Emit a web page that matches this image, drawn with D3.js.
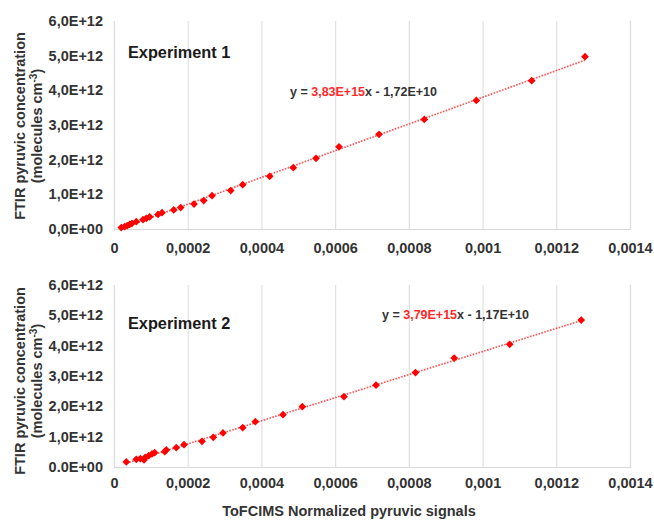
<!DOCTYPE html>
<html><head><meta charset="utf-8">
<script src="https://cdn.jsdelivr.net/npm/d3@7"></script>
<style>
html,body{margin:0;padding:0;background:#fff;}
svg{display:block;font-family:"Liberation Sans",Arial,sans-serif;}
</style></head>
<body><svg id="c" width="654" height="521"></svg>
<script>
// ---- data (y values in units of 1E+12 molecules cm-3) ----
const exp1Signal = [0.0000198,0.0000290,0.0000361,0.0000426,0.0000488,0.0000605,0.0000787,0.0000876,0.0000969,0.0001194,0.0001302,0.0001620,0.0001810,0.0002171,0.0002434,0.0002659,0.0003166,0.0003492,0.0004224,0.0004865,0.0005481,0.0006105,0.0007190,0.0008419,0.0009830,0.0011333,0.0012779];
const exp1Conc = [0.04,0.07,0.10,0.13,0.16,0.21,0.27,0.31,0.35,0.42,0.47,0.55,0.62,0.72,0.82,0.96,1.11,1.28,1.52,1.77,2.04,2.37,2.73,3.16,3.71,4.28,4.97];
const exp2Signal = [0.0000334,0.0000605,0.0000714,0.0000814,0.0000849,0.0000941,0.0001031,0.0001104,0.0001376,0.0001419,0.0001690,0.0001899,0.0002388,0.0002694,0.0002957,0.0003492,0.0003834,0.0004585,0.0005109,0.0006240,0.0007109,0.0008180,0.0009230,0.0010736,0.0012676];
const exp2Conc = [0.165,0.254,0.274,0.231,0.320,0.373,0.429,0.472,0.505,0.561,0.637,0.736,0.848,0.980,1.122,1.297,1.495,1.723,1.990,2.320,2.696,3.112,3.591,4.043,4.845];
const xTickValues = [0,0.0002,0.0004,0.0006,0.0008,0.001,0.0012,0.0014];
const xTickLabels = ["0","0,0002","0,0004","0,0006","0,0008","0,001","0,0012","0,0014"];
const yTickValues = [0,1,2,3,4,5,6];
const yTickLabels1 = ["0,0E+00","1,0E+12","2,0E+12","3,0E+12","4,0E+12","5,0E+12","6,0E+12"];
const yTickLabels2 = ["0.0E+00","1,0E+12","2,0E+12","3,0E+12","4,0E+12","5,0E+12","6,0E+12"];
const panelTitles = ["Experiment 1","Experiment 2"];
const eqSlopes = ["3,83E+15","3,79E+15"];
const eqIntercepts = ["x - 1,72E+10","x - 1,17E+10"];
const xTitle = "ToFCIMS Normalized pyruvic signals";

const svg = d3.select("#c");
const TXT = "#333";
const RED = "#ff0000";
const x = d3.scaleLinear().domain([0,0.0014]).range([114,630]);

const panels = [
  {xs:exp1Signal, ys:exp1Conc, yr:[229,21], yl:yTickLabels1, title:panelTitles[0], tPos:[128,58], eq:[eqSlopes[0],eqIntercepts[0]], ePos:[290,96], xlY:253, yc:126},
  {xs:exp2Signal, ys:exp2Conc, yr:[467,285], yl:yTickLabels2, title:panelTitles[1], tPos:[128,329], eq:[eqSlopes[1],eqIntercepts[1]], ePos:[382,319], xlY:488, yc:381}
];

panels.forEach(p => {
  const y = d3.scaleLinear().domain([0,6]).range(p.yr);
  const g = svg.append("g");
  g.append("g").attr("transform",`translate(0,${p.yr[0]})`)
    .call(d3.axisBottom(x).tickValues(xTickValues).tickSize(-(p.yr[0]-p.yr[1])).tickFormat((d,i)=>xTickLabels[i]).tickPadding(0))
    .call(a=>{
      a.select(".domain").attr("stroke","#d9d9d9").attr("stroke-width",1.2);
      a.selectAll(".tick line").attr("stroke","#e0e0e0").attr("stroke-width",1.2);
      a.selectAll(".tick text").attr("fill",TXT).attr("font-size","14.5px").attr("font-weight","bold")
        .attr("font-family","'Liberation Sans',Arial,sans-serif").attr("dy",null).attr("y",p.xlY-p.yr[0]);
    });
  g.append("g").attr("transform","translate(114,0)")
    .call(d3.axisLeft(y).tickValues(yTickValues).tickSize(0).tickPadding(11).tickFormat((d,i)=>p.yl[i]))
    .call(a=>{
      a.select(".domain").remove();
      a.selectAll(".tick text").attr("fill",TXT).attr("font-size","14.5px").attr("font-weight","bold")
        .attr("font-family","'Liberation Sans',Arial,sans-serif");
    });
  // trendline (least squares fit of the points)
  const n = p.xs.length;
  const mx = d3.mean(p.xs), my = d3.mean(p.ys);
  let sxy=0, sxx=0;
  for(let i=0;i<n;i++){ sxy += (p.xs[i]-mx)*(p.ys[i]-my); sxx += (p.xs[i]-mx)**2; }
  const b = sxy/sxx, a0 = my - b*mx;
  const ext = d3.extent(p.xs);
  g.append("path").datum(ext)
    .attr("d", d3.line().x(d=>x(d)).y(d=>y(a0+b*d)))
    .attr("stroke","#ff3030").attr("stroke-width",1.7).attr("stroke-dasharray","1.6,1.4").attr("fill","none").attr("opacity",0.8);
  // markers (diamonds)
  g.selectAll("path.pt").data(d3.range(n)).join("path").attr("class","pt")
    .attr("d", d3.symbol(d3.symbolSquare, 30))
    .attr("transform", i=>`translate(${x(p.xs[i])},${y(p.ys[i])}) rotate(45)`)
    .attr("fill",RED);
  g.append("text").attr("x",p.tPos[0]).attr("y",p.tPos[1]).text(p.title)
    .attr("font-size","16.3px").attr("font-weight","bold").attr("fill","#1a1a1a");
  const t = g.append("text").attr("x",p.ePos[0]).attr("y",p.ePos[1])
    .attr("font-size","12.5px").attr("font-weight","bold").attr("fill",TXT);
  t.append("tspan").text("y = ");
  t.append("tspan").text(p.eq[0]).attr("fill","#ff2a2a");
  t.append("tspan").text(p.eq[1]);
  g.append("text").attr("transform",`translate(24.5,${p.yc}) rotate(-90)`).attr("text-anchor","middle")
    .attr("font-size","14.5px").attr("font-weight","bold").attr("fill",TXT).text("FTIR pyruvic concentration");
  const t2 = g.append("text").attr("transform",`translate(41.5,${p.yc}) rotate(-90)`).attr("text-anchor","middle")
    .attr("font-size","14.5px").attr("font-weight","bold").attr("fill",TXT);
  t2.append("tspan").text("(molecules cm");
  t2.append("tspan").text("-3").attr("font-size","10px").attr("dy","-5");
  t2.append("tspan").text(")").attr("dy","5");
});

svg.append("text").attr("x",349).attr("y",516).attr("text-anchor","middle")
  .attr("font-size","14.5px").attr("font-weight","bold").attr("fill",TXT).text(xTitle);
</script></body></html>
